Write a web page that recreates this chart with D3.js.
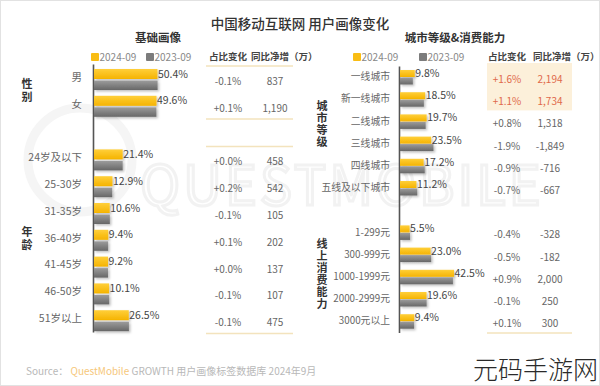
<!DOCTYPE html>
<html>
<head>
<meta charset="utf-8">
<script src="https://cdn.jsdelivr.net/npm/d3@7"></script>
<style>
  body { margin: 0; background: #fff; }
  svg { display: block; font-family: "Noto Sans CJK SC", "Noto Sans", sans-serif; }
</style>
</head>
<body>
<svg id="chart"></svg>
<script>
// ---- data ----
const sexCats = ['男', '女'];
const sex2024 = [50.4, 49.6];
const sex2023 = [50.5, 49.5];
const sexChg = ['-0.1%', '+0.1%'];
const sexNet = ['837', '1,190'];

const ageCats = ['24岁及以下', '25-30岁', '31-35岁', '36-40岁', '41-45岁', '46-50岁', '51岁以上'];
const age2024 = [21.4, 12.9, 10.6, 9.4, 9.2, 10.1, 26.5];
const age2023 = [21.4, 12.7, 10.7, 9.3, 9.2, 10.2, 26.6];
const ageChg = ['+0.0%', '+0.2%', '-0.1%', '+0.1%', '+0.0%', '-0.1%', '-0.1%'];
const ageNet = ['458', '542', '105', '202', '137', '107', '475'];

const cityCats = ['一线城市', '新一线城市', '二线城市', '三线城市', '四线城市', '五线及以下城市'];
const city2024 = [9.8, 18.5, 19.7, 23.5, 17.2, 11.2];
const city2023 = [8.2, 17.4, 18.9, 25.4, 18.1, 11.9];
const cityChg = ['+1.6%', '+1.1%', '+0.8%', '-1.9%', '-0.9%', '-0.7%'];
const cityNet = ['2,194', '1,734', '1,318', '-1,849', '-716', '-667'];

const consCats = ['1-299元', '300-999元', '1000-1999元', '2000-2999元', '3000元以上'];
const cons2024 = [5.5, 23.0, 42.5, 19.6, 9.4];
const cons2023 = [5.9, 23.5, 41.6, 19.7, 9.3];
const consChg = ['-0.4%', '-0.5%', '+0.9%', '-0.1%', '+0.1%'];
const consNet = ['-328', '-182', '2,000', '250', '300'];

const highlightCats = ['一线城市', '新一线城市'];
const seriesNames = ['2024-09', '2023-09'];
const tableHeads = ['占比变化', '同比净增（万）'];

const width = 600, height = 386;
const svg = d3.select('#chart').attr('width', width).attr('height', height);

// frame
svg.append('rect').attr('x', 0.5).attr('y', 0.5).attr('width', width - 1).attr('height', height - 1)
  .attr('fill', '#fff').attr('stroke', '#e2e2e2');

// faint background watermark
const wm = svg.append('g');
wm.append('circle').attr('cx', 80).attr('cy', 160).attr('r', 52)
  .attr('fill', 'none').attr('stroke', '#f5f5f5').attr('stroke-width', 9);
wm.append('text').attr('x', 140).attr('y', 205).attr('font-size', 54).attr('letter-spacing', 3)
  .attr('fill', 'none').attr('stroke', '#f2f2f2').attr('stroke-width', 3).text('QUESTMOBILE');

// gradients + shadow
const defs = svg.append('defs');
const gy = defs.append('linearGradient').attr('id', 'gYellow').attr('x1', 0).attr('y1', 0).attr('x2', 0).attr('y2', 1);
gy.append('stop').attr('offset', '0%').attr('stop-color', '#ffcf3a');
gy.append('stop').attr('offset', '100%').attr('stop-color', '#f5b300');
const gg = defs.append('linearGradient').attr('id', 'gGray').attr('x1', 0).attr('y1', 0).attr('x2', 0).attr('y2', 1);
gg.append('stop').attr('offset', '0%').attr('stop-color', '#9c9c9c');
gg.append('stop').attr('offset', '100%').attr('stop-color', '#676767');
defs.append('filter').attr('id', 'shadow').attr('x', '-10%').attr('y', '-30%').attr('width', '130%').attr('height', '180%')
  .append('feDropShadow').attr('dx', 1.5).attr('dy', 1.5).attr('stdDeviation', 1.2)
  .attr('flood-color', '#000').attr('flood-opacity', 0.25);

// title
svg.append('text').attr('x', 300).attr('y', 29).attr('text-anchor', 'middle')
  .attr('font-size', 13.5).attr('font-weight', 500).attr('fill', '#333')
  .text('中国移动互联网 用户画像变化');

function drawPanel(p) {
  const keys = [];
  const rows = [];
  p.groups.forEach((g, gi) => {
    if (gi > 0) keys.push('gap' + gi);
    g.cats.forEach((c, i) => {
      keys.push(c);
      rows.push({ cat: c, v24: g.v24[i], v23: g.v23[i], chg: g.chg[i], net: g.net[i] });
    });
  });

  const y = d3.scaleBand().domain(keys).range(p.yRange);
  const x = d3.scaleLinear().domain([0, 50]).range([p.axisX + 4, p.axisX + 64]);
  const bw = y.bandwidth();
  const root = svg.append('g');

  // subtitle
  root.append('text').attr('x', p.subX).attr('y', 42).attr('text-anchor', 'middle')
    .attr('font-size', 11.5).attr('font-weight', 700).attr('fill', '#333').text(p.subtitle);

  // legend
  const lg = root.append('g').attr('font-size', 10).attr('fill', '#888');
  seriesNames.forEach((s, i) => {
    const lx = p.legendX[i];
    lg.append('rect').attr('x', lx).attr('y', 53).attr('width', 8).attr('height', 8).attr('rx', 1)
      .attr('fill', i === 0 ? '#f9bd14' : '#7c7c7c');
    lg.append('text').attr('x', lx + 8.5).attr('y', 61).text(s);
  });

  // table headers
  root.append('text').attr('x', p.chgX).attr('y', 60).attr('text-anchor', 'middle')
    .attr('font-size', 9.5).attr('font-weight', 700).attr('fill', '#444').text(tableHeads[0]);
  root.append('text').attr('x', p.netHeadX).attr('y', 60)
    .attr('font-size', 9.5).attr('font-weight', 700).attr('fill', '#444').text(tableHeads[1]);

  // highlight box
  const hl = rows.filter(r => highlightCats.includes(r.cat));
  if (hl.length) {
    const y0 = y(hl[0].cat) - 7, y1 = y(hl[hl.length - 1].cat) + bw - 4;
    root.append('rect').attr('x', p.ruleX[0]).attr('y', y0)
      .attr('width', p.ruleX[1] - p.ruleX[0]).attr('height', y1 - y0).attr('fill', '#fcf0da');
  }

  // table rules
  const ruleYs = [];
  p.groups.forEach((g, gi) => {
    const start = y(g.cats[0]), end = y(g.cats[g.cats.length - 1]) + bw;
    if (p.groupRules) ruleYs.push(start - 3);
    if (p.groupRules || gi === p.groups.length - 1) ruleYs.push(end - 3.5);
  });
  root.selectAll('line.rule').data(ruleYs).join('line').attr('class', 'rule')
    .attr('x1', p.ruleX[0]).attr('x2', p.ruleX[1]).attr('y1', d => d).attr('y2', d => d)
    .attr('stroke', '#f3e3bd').attr('stroke-width', 1.5);

  // axis with category labels
  const axis = d3.axisLeft(y).tickSize(0).tickPadding(p.labelPad)
    .tickValues(keys.filter(k => !k.startsWith('gap')));
  const ag = root.append('g').attr('transform', `translate(${p.axisX},${p.axisShift})`).call(axis);
  ag.select('.domain').attr('stroke', '#555').attr('stroke-width', 1.6);
  ag.selectAll('text').attr('font-size', p.labelSize).attr('fill', '#666')
    .attr('font-family', '"Noto Sans CJK SC", sans-serif');

  // bars
  const bars = root.append('g').attr('filter', 'url(#shadow)');
  bars.selectAll('rect.b23').data(rows).join('rect').attr('class', 'b23')
    .attr('x', p.axisX + 1).attr('y', d => y(d.cat) + p.barH + p.barGap)
    .attr('width', d => x(d.v23) - p.axisX - 1).attr('height', p.barH2)
    .attr('fill', 'url(#gGray)');
  bars.selectAll('rect.b24').data(rows).join('rect').attr('class', 'b24')
    .attr('x', p.axisX + 1).attr('y', d => y(d.cat))
    .attr('width', d => x(d.v24) - p.axisX - 1).attr('height', p.barH)
    .attr('fill', 'url(#gYellow)');

  // value labels
  root.selectAll('text.val').data(rows).join('text').attr('class', 'val')
    .attr('x', d => x(d.v24) + 0.5).attr('y', d => y(d.cat) + p.barH / 2 + 3.5)
    .attr('font-size', p.valSize).attr('fill', '#444')
    .text(d => d3.format('.1f')(d.v24) + '%');

  // table values
  const isHl = d => highlightCats.includes(d.cat);
  root.selectAll('text.chg').data(rows).join('text').attr('class', 'chg')
    .attr('x', p.chgX).attr('y', d => y(d.cat) + p.tableDy).attr('text-anchor', 'middle')
    .attr('font-size', 10).attr('fill', d => isHl(d) ? '#e0694a' : '#666').text(d => d.chg);
  root.selectAll('text.net').data(rows).join('text').attr('class', 'net')
    .attr('x', p.netX).attr('y', d => y(d.cat) + p.tableDy).attr('text-anchor', 'middle')
    .attr('font-size', 10).attr('fill', d => isHl(d) ? '#e0694a' : '#666').text(d => d.net);

  // vertical group labels
  p.groups.forEach((g, gi) => {
    const a = y(g.cats[0]), b = y(g.cats[g.cats.length - 1]) + bw;
    const chars = Array.from(g.label);
    const mid = (a + b) / 2 + p.axisShift + p.groupShift[gi];
    const step = p.charStep;
    root.append('g').selectAll('text').data(chars).join('text')
      .attr('x', p.groupX).attr('text-anchor', 'middle')
      .attr('y', (d, i) => mid + (i - (chars.length - 1) / 2) * step + 4)
      .attr('font-size', 11).attr('font-weight', 700).attr('fill', '#333').text(d => d);
  });
}

drawPanel({
  subtitle: '基础画像', subX: 158, legendX: [91, 146],
  groups: [
    { label: '性别', cats: sexCats, v24: sex2024, v23: sex2023, chg: sexChg, net: sexNet },
    { label: '年龄', cats: ageCats, v24: age2024, v23: age2023, chg: ageChg, net: ageNet }
  ],
  yRange: [69, 337], axisX: 93, axisShift: -5, labelPad: 11, labelSize: 10.5,
  barH: 10, barGap: 1.5, barH2: 9.5, valSize: 10.5,
  chgX: 228, netX: 275, netHeadX: 251, tableDy: 16, ruleX: [206, 293], groupRules: true,
  groupX: 27, charStep: 13, groupShift: [0, 0]
});

drawPanel({
  subtitle: '城市等级&消费能力', subX: 455, legendX: [353, 419],
  groups: [
    { label: '城市等级', cats: cityCats, v24: city2024, v23: city2023, chg: cityChg, net: cityNet },
    { label: '线上消费能力', cats: consCats, v24: cons2024, v23: cons2023, chg: consChg, net: consNet }
  ],
  yRange: [70, 336.4], axisX: 399, axisShift: -4, labelPad: 9, labelSize: 9.8,
  barH: 7, barGap: 0.5, barH2: 7, valSize: 10.5,
  chgX: 507, netX: 550, netHeadX: 533, tableDy: 13, ruleX: [487, 572], groupRules: false,
  groupX: 322, charStep: 12, groupShift: [-9, -3]
});

// footer
const ft = svg.append('text').attr('x', 26).attr('y', 375).attr('font-size', 10).attr('fill', '#b8b8b8');
ft.append('tspan').text('Source：  ');
ft.append('tspan').attr('fill', '#f6c77a').text('QuestMobile');
ft.append('tspan').text(' GROWTH 用户画像标签数据库 2024年9月');

// site watermark
svg.append('text').attr('x', 598).attr('y', 379).attr('text-anchor', 'end')
  .attr('font-size', 25).attr('font-weight', 300).attr('fill', '#2a2a2a').text('元码手游网');
</script>
</body>
</html>
